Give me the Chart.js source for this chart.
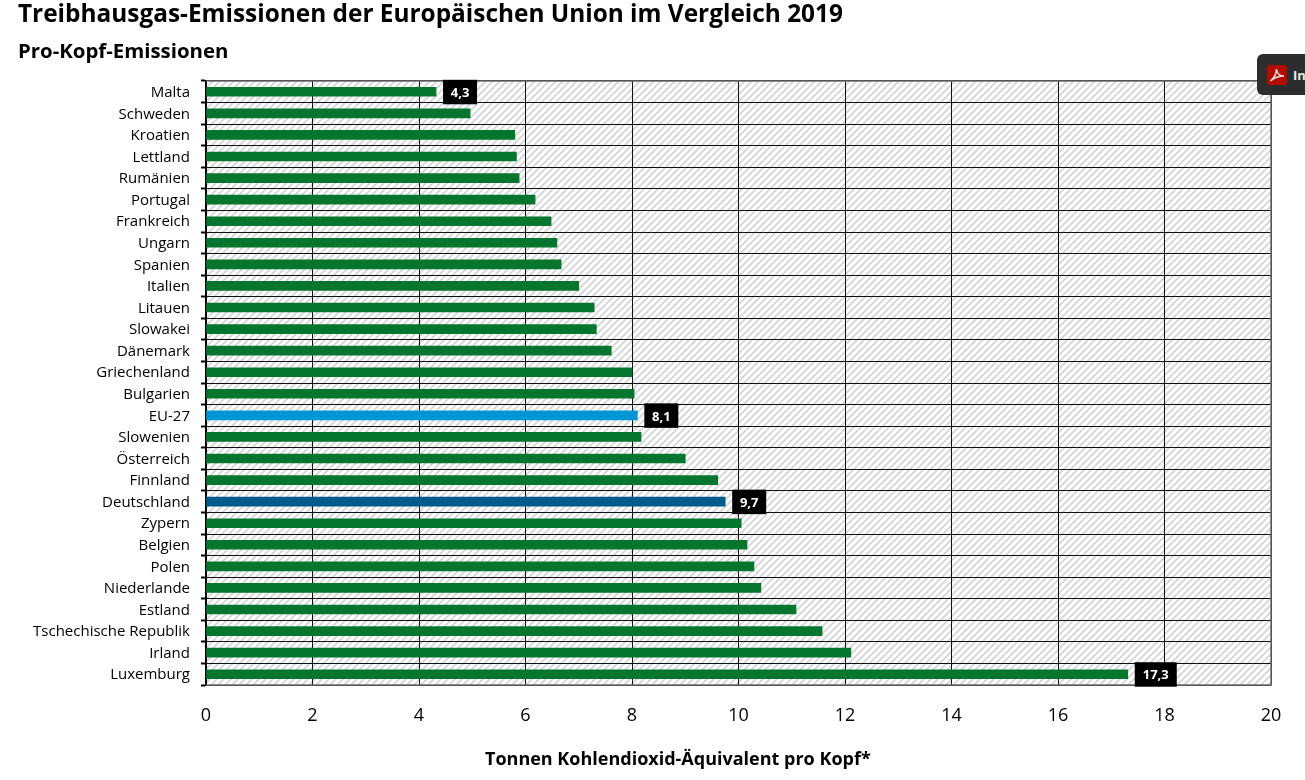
<!DOCTYPE html>
<html lang="de"><head><meta charset="utf-8">
<script src="https://cdn.jsdelivr.net/npm/chart.js@4"></script>
<style>
html,body{margin:0;padding:0;background:#fff;width:1305px;height:780px;overflow:hidden;font-family:"Open Sans",sans-serif}
#wrap{position:absolute;left:0;top:0;width:1305px;height:780px}
#t{position:absolute;left:18px;top:-4px;font:700 24.4px "Open Sans",sans-serif;color:#000;white-space:nowrap;margin:0}
#s{position:absolute;left:18px;top:36px;font:700 20.4px "Open Sans",sans-serif;color:#000;white-space:nowrap;margin:0}
#a{position:absolute;left:485px;top:746px;font:700 18px "Open Sans",sans-serif;color:#000;white-space:nowrap;margin:0}
#pdf{position:absolute;left:1257px;top:54px;width:60px;height:41px;background:#2d2d2d;border-radius:6px;color:#e8e8e8;font:700 13px "Open Sans",sans-serif;overflow:hidden}
#pdf svg{position:absolute;left:10px;top:11px;width:20px;height:20px}
#pdf span{position:absolute;left:36px;top:12px}
</style></head><body>
<div id="wrap"><canvas id="c" width="1305" height="780"></canvas></div>
<h1 id="t">Treibhausgas-Emissionen der Europäischen Union im Vergleich 2019</h1>
<h2 id="s">Pro-Kopf-Emissionen</h2>
<div id="a">Tonnen Kohlendioxid-Äquivalent pro Kopf*</div>
<div id="pdf"><svg viewBox="0 0 20 20"><rect width="20" height="20" rx="3" fill="#b30b00"/><path d="M3.5 16 C7 13 9.5 8 9.5 4 C10 8.5 12.5 11 17 11 C12 11 7.5 12.5 3.5 16Z" fill="none" stroke="#f3dcdc" stroke-width="1.6"/></svg><span>In</span></div>
<script>
const categories=["Malta","Schweden","Kroatien","Lettland","Rumänien","Portugal","Frankreich","Ungarn","Spanien","Italien","Litauen","Slowakei","Dänemark","Griechenland","Bulgarien","EU-27","Slowenien","Österreich","Finnland","Deutschland","Zypern","Belgien","Polen","Niederlande","Estland","Tschechische Republik","Irland","Luxemburg"];
const emissions=[4.32,4.96,5.80,5.83,5.88,6.18,6.48,6.59,6.67,7.0,7.29,7.33,7.61,8.0,8.04,8.1,8.17,9.0,9.61,9.75,10.05,10.16,10.29,10.42,11.08,11.57,12.11,17.31];
const barColors=categories.map(c=>c==="EU-27"?"#0096d6":c==="Deutschland"?"#005b8c":"#06752e");
const calloutCategories=["Malta","EU-27","Deutschland","Luxemburg"];
const calloutTexts=["4,3","8,1","9,7","17,3"];
const FONT='"Open Sans",sans-serif';

function hatch(ctx){
  const p=document.createElement('canvas');p.width=7;p.height=7;
  const g=p.getContext('2d');g.strokeStyle='#d6d6d6';g.lineWidth=1.9;
  g.beginPath();g.moveTo(-1,8);g.lineTo(8,-1);g.moveTo(-4,4);g.lineTo(4,-4);g.moveTo(3,11);g.lineTo(11,3);g.stroke();
  return ctx.createPattern(p,'repeat');
}
const plotBg={id:'plotBg',beforeDraw(ch){
  const {ctx,chartArea:a}=ch;ctx.save();ctx.fillStyle=hatch(ctx);
  ctx.fillRect(a.left,a.top,a.right-a.left,a.bottom-a.top);ctx.restore();
}};
const frame={id:'frame',afterDatasetsDraw(ch){
  const {ctx,chartArea:a}=ch;ctx.save();
  ctx.strokeStyle='#6e6e6e';ctx.lineWidth=1.5;
  ctx.beginPath();ctx.moveTo(a.left,a.top);ctx.lineTo(a.right,a.top);ctx.lineTo(a.right,a.bottom);ctx.lineTo(a.left,a.bottom);ctx.stroke();
  ctx.restore();
}};
const callouts={id:'callouts',afterDraw(ch){
  const {ctx,scales:{x,y}}=ch;ctx.save();
  ctx.font='700 13px '+FONT;ctx.textBaseline='middle';ctx.textAlign='center';
  calloutCategories.forEach((c,i)=>{
    const k=categories.indexOf(c),v=emissions[k];
    const w=calloutTexts[i].length>3?42:34;
    const l=x.getPixelForValue(v)+7,cy=y.getPixelForValue(k);
    ctx.fillStyle='#000';ctx.fillRect(l,cy-12,w,24.5);
    ctx.fillStyle='#fff';ctx.fillText(calloutTexts[i],l+w/2,cy+1.5);
  });
  ctx.restore();
}};
new Chart(document.getElementById('c'),{
  type:'bar',
  data:{labels:categories,datasets:[{data:emissions,backgroundColor:barColors,barThickness:9,borderWidth:0}]},
  plugins:[plotBg,frame,callouts],
  options:{
    indexAxis:'y',responsive:false,animation:false,
    layout:{padding:{left:0,right:34,top:81,bottom:7}},
    plugins:{legend:{display:false},tooltip:{enabled:false},title:{display:false}},
    scales:{
      x:{min:0,max:20,position:'bottom',
        afterFit(s){s.height=88},
        ticks:{stepSize:2,color:'#000',padding:20,font:{family:FONT,size:18},maxRotation:0},
        grid:{color:'#111',lineWidth:1,drawTicks:false},
        border:{display:false}},
      y:{
        afterFit(s){s.width=206},
        ticks:{color:'#000',padding:11,autoSkip:false,labelOffset:1,font:{family:FONT,size:15}},
        grid:{color:'#111',lineWidth:1,tickColor:'#000',tickLength:5,tickWidth:2},
        border:{display:true,color:'#000',width:2}}
    }
  }
});
</script></body></html>
